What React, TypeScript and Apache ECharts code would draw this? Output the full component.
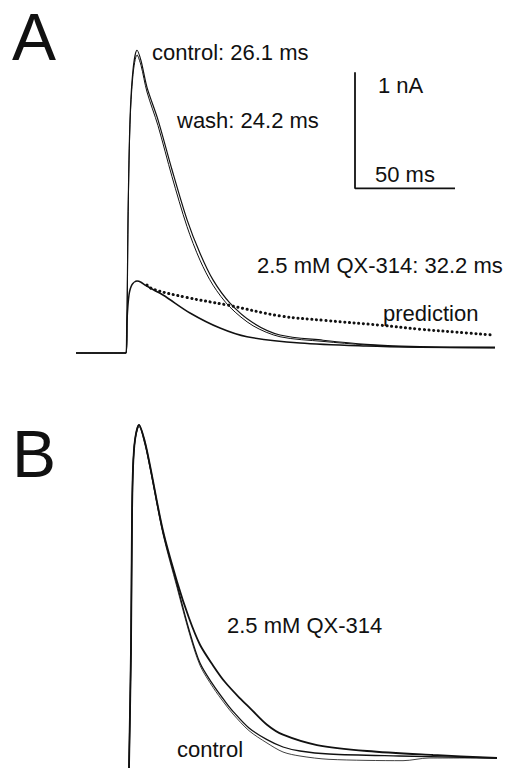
import React, { useEffect, useRef } from "react";
import * as echarts from "echarts";

// ---- Panel A (time in ms from stimulus, current in nA) ----
const controlA: [number, number][] = [
  [-25, 0], [0, 0], [0.5, 0.28], [1, 1.15], [2, 2.01], [3.5, 2.44], [5.5, 2.61], [7.5, 2.52],
  [10.5, 2.29], [16, 2.01], [23, 1.58], [30.5, 1.15], [37, 0.86], [43.5, 0.63], [52, 0.43],
  [63.5, 0.26], [77, 0.155], [98.5, 0.11], [120, 0.075], [147, 0.055], [184.5, 0.05],
];
const washA: [number, number][] = [
  [-25, 0], [0, 0], [0.5, 0.27], [1, 1.12], [2, 1.97], [3.5, 2.4], [5.5, 2.57], [7.5, 2.48],
  [10.5, 2.25], [16, 1.96], [23, 1.52], [30.5, 1.09], [37, 0.8], [43.5, 0.585], [52, 0.395],
  [63.5, 0.235], [77, 0.14], [98.5, 0.1], [120, 0.07], [147, 0.05], [184.5, 0.045],
];
const qxA: [number, number][] = [
  [-25, 0], [0, 0], [0.5, 0.28], [1.5, 0.5], [3, 0.59], [5.5, 0.62], [7.5, 0.61], [10, 0.58],
  [18.5, 0.5], [32, 0.345], [47, 0.215], [60.5, 0.14], [87, 0.086], [120, 0.06], [147, 0.05],
  [184.5, 0.045],
];
const predictionA: [number, number][] = [
  [10.5, 0.585], [13.5, 0.55], [30, 0.48], [50.5, 0.414], [77, 0.32], [100, 0.28],
  [127, 0.24], [147, 0.205], [165, 0.18], [183.5, 0.155],
];
// scale bar: 50 ms x 1 nA
const scaleBarA: [number, number][] = [[114.5, 2.42], [114.5, 1.42], [164.5, 1.42]];

// ---- Panel B (normalized current) ----
const controlB: [number, number][] = [
  [0, -0.03], [1, 0.33], [1.5, 0.72], [2, 0.87], [3, 0.955], [5, 1.0], [8, 0.946],
  [10.5, 0.875], [17, 0.678], [24, 0.52], [30, 0.385], [35.5, 0.285], [42, 0.22], [48, 0.17],
  [52, 0.14], [60, 0.09], [69, 0.055], [77, 0.033], [85.5, 0.021], [100, 0.012], [135, 0.006],
  [184, 0.0],
];
const washB: [number, number][] = [
  [0, -0.03], [1, 0.33], [1.5, 0.72], [2, 0.87], [3, 0.955], [5, 0.995], [8, 0.94],
  [10.5, 0.87], [17, 0.672], [24, 0.512], [30, 0.378], [35.5, 0.278], [42, 0.212], [48, 0.162],
  [52, 0.132], [60, 0.082], [69, 0.045], [77, 0.018], [85.5, 0.006], [100, -0.004],
  [137, -0.008], [150, 0.0], [184, 0.0],
];
const qxB: [number, number][] = [
  [0, -0.03], [1, 0.33], [1.5, 0.72], [2, 0.87], [3, 0.955], [5, 1.0], [8, 0.948],
  [10.5, 0.878], [17, 0.682], [24, 0.53], [30, 0.42], [35.5, 0.34], [42, 0.278], [48, 0.228],
  [55.5, 0.179], [60.5, 0.15], [69, 0.1], [77, 0.07], [94, 0.039], [119, 0.021], [152, 0.009],
  [184, 0.0],
];

const FONT = "'Liberation Sans', Arial, Helvetica, sans-serif";
const INK = "#111";

function label(text: string, x: number, baseline: number, size: number) {
  return {
    type: "text",
    x,
    y: baseline - 0.35 * size,
    style: {
      text,
      font: `${size}px ${FONT}`,
      fill: INK,
      align: "left",
      verticalAlign: "middle",
    },
  };
}

function trace(name: string, data: [number, number][], idx: number, width: number) {
  return {
    name,
    type: "line",
    xAxisIndex: idx,
    yAxisIndex: idx,
    data,
    showSymbol: false,
    symbol: "none",
    smooth: 0.3,
    lineStyle: { color: INK, width },
    z: 2,
  };
}

export default function App() {
  const ref = useRef<HTMLDivElement>(null);
  useEffect(() => {
    if (!ref.current) return;
    const chart = echarts.init(ref.current, undefined, { renderer: "svg" });
    chart.setOption({
      animation: false,
      backgroundColor: "#ffffff",
      grid: [
        { left: 76, top: 28.2, width: 420, height: 348 },
        { left: 79, top: 391.5, width: 420, height: 378.55 },
      ],
      xAxis: [
        { type: "value", gridIndex: 0, min: -25, max: 185, show: false },
        { type: "value", gridIndex: 1, min: -25, max: 185, show: false },
      ],
      yAxis: [
        { type: "value", gridIndex: 0, min: -0.2, max: 2.8, show: false },
        { type: "value", gridIndex: 1, min: -0.03, max: 1.1, show: false },
      ],
      series: [
        trace("control", controlA, 0, 1.2),
        trace("wash", washA, 0, 1.0),
        trace("2.5 mM QX-314", qxA, 0, 1.5),
        {
          name: "prediction",
          type: "line",
          xAxisIndex: 0,
          yAxisIndex: 0,
          data: predictionA,
          showSymbol: false,
          symbol: "none",
          smooth: 0.4,
          lineStyle: { color: INK, width: 3, type: [0.1, 4.6], cap: "round" },
        },
        {
          name: "scale bar",
          type: "line",
          xAxisIndex: 0,
          yAxisIndex: 0,
          data: scaleBarA,
          showSymbol: false,
          symbol: "none",
          lineStyle: { color: INK, width: 1.8 },
        },
        trace("control B", controlB, 1, 1.3),
        trace("wash B", washB, 1, 0.8),
        trace("2.5 mM QX-314 B", qxB, 1, 1.8),
      ],
      graphic: [
        label("A", 12, 60, 66),
        label("B", 12, 477, 66),
        label("control: 26.1 ms", 152, 60, 22),
        label("wash: 24.2 ms", 177, 128, 22),
        label("1 nA", 378, 93, 22),
        label("50 ms", 375, 182, 22),
        label("2.5 mM QX-314: 32.2 ms", 257, 273, 22),
        label("prediction", 383, 321, 22),
        label("2.5 mM QX-314", 227, 633, 22),
        label("control", 177, 757, 22),
      ],
    });
    return () => chart.dispose();
  }, []);
  return (
    <div
      ref={ref}
      style={{ position: "fixed", left: 0, top: 0, width: 524, height: 768, background: "#fff" }}
    />
  );
}
